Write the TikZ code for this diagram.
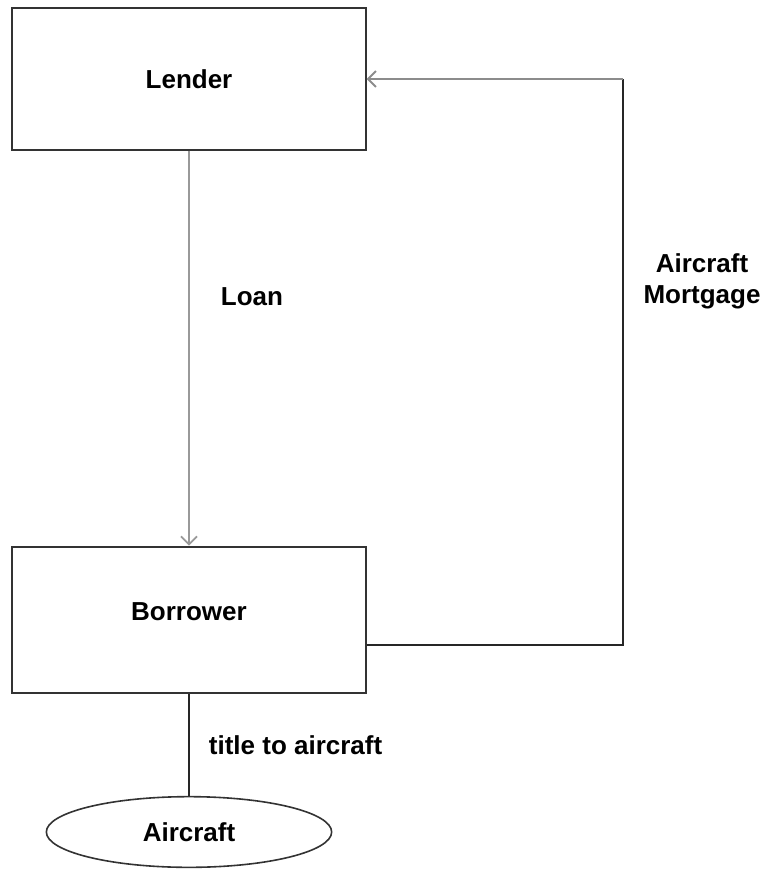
\documentclass[tikz,border=0pt]{standalone}
\usepackage{fontspec}
\setmainfont{Liberation Sans}
\usetikzlibrary{arrows.meta,calc,shapes.geometric}

\tikzset{
  party/.style={draw=black!80, line width=1.5pt, minimum width=265pt, inner sep=0pt},
  asset/.style={draw=black!80, ellipse, line width=1.2pt, minimum width=214pt, minimum height=53pt, inner sep=0pt},
  txt/.style={font=\fontsize{19.5}{23}\selectfont\bfseries, text=black},
  flow/.style={line width=1.2pt},
  barb/.style={-{Straight Barb[length=6pt,width=12pt,line width=1.4pt]}}
}

\begin{document}
\begin{tikzpicture}[x=0.75pt,y=-0.75pt]

\useasboundingbox (0,0) rectangle (769,870);

\node[party,txt,minimum height=106pt] (lender) at (189,79) {Lender};
\node[party,minimum height=110pt] (borrower) at (189,620) {};
\node[txt] (borrowertxt) at (189,612) {Borrower};
\node[asset,txt] (aircraft) at (189,832) {Aircraft};

% loan from lender to borrower
\draw[flow, black!40, barb] (lender) -- (borrower) node[pos=0.37, right=20pt, txt] (loan) {Loan};

% mortgage back to lender
\coordinate (corner) at (623,645);
\draw[flow, black!85] (corner -| borrower.east) -- (corner) -- (corner |- lender.east);
\draw[flow, black!45, barb] (corner |- lender.east) -- (lender.east);
\node[txt, align=center] (mortgage) at (702,281) {Aircraft\\Mortgage};

% title
\draw[flow, black!85] (borrower) -- (aircraft) node[midway, right=11pt, txt] (title) {title to aircraft};

\end{tikzpicture}
\end{document}
